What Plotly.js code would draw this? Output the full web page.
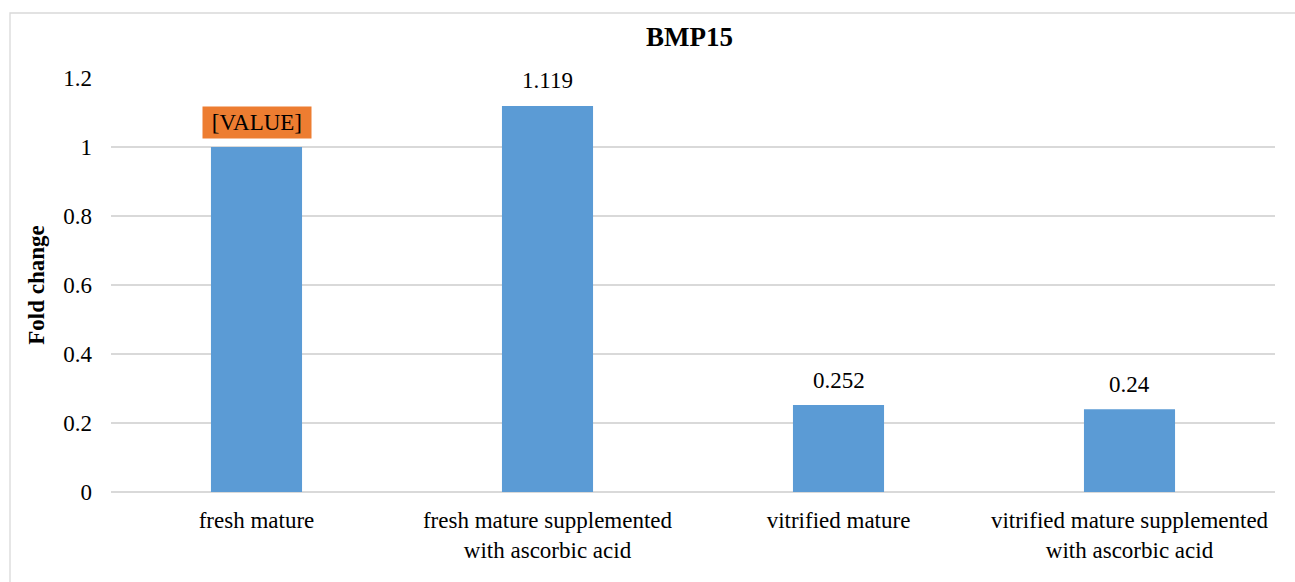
<!DOCTYPE html>
<html>
<head>
<meta charset="utf-8">
<script src="https://cdn.plot.ly/plotly-3.0.1.min.js"></script>
<style>
  html, body { margin: 0; padding: 0; background: #fff; }
  #chart { width: 1295px; height: 582px; }
</style>
</head>
<body>
<div id="chart"></div>
<script>
const categories = [
  "fresh mature",
  "fresh mature supplemented<br>with ascorbic acid",
  "vitrified mature",
  "vitrified mature supplemented<br>with ascorbic acid"
];
const foldChange = [1.0, 1.119, 0.252, 0.24];
const dataLabels = ["[VALUE]", "1.119", "0.252", "0.24"];
const labelBoxColors = ["#ED7D31", null, null, null];
const yTickValues = [0, 0.2, 0.4, 0.6, 0.8, 1, 1.2];

const FONT = '"Liberation Serif", "Times New Roman", serif';

const trace = {
  type: "bar",
  x: categories,
  y: foldChange,
  marker: { color: "#5B9BD5" },
  hoverinfo: "x+y"
};

const annotations = categories.map((c, i) => {
  const a = {
    x: c,
    y: foldChange[i],
    xref: "x",
    yref: "y",
    text: labelBoxColors[i] ? "&nbsp;" + dataLabels[i] + "&nbsp;" : dataLabels[i],
    showarrow: false,
    yanchor: "middle",
    yshift: 25,
    font: { family: FONT, size: 23, color: "#000" }
  };
  if (labelBoxColors[i]) {
    a.bgcolor = labelBoxColors[i];
    a.borderpad = 3;
  }
  return a;
});

const layout = {
  width: 1295,
  height: 582,
  font: { family: FONT, size: 23, color: "#000" },
  margin: { l: 111, r: 20, t: 78, b: 90, pad: 0 },
  paper_bgcolor: "#fff",
  plot_bgcolor: "#fff",
  showlegend: false,
  bargap: 0.687,
  title: {
    text: "<b>BMP15</b>",
    font: { family: FONT, size: 27, color: "#000" },
    xref: "paper",
    x: 0.497,
    xanchor: "center",
    yref: "container",
    y: 1 - 37 / 582,
    yanchor: "middle"
  },
  xaxis: {
    type: "category",
    showgrid: false,
    showline: false,
    zeroline: false,
    ticks: "",
    tickfont: { family: FONT, size: 23, color: "#000" },
    ticklabelstandoff: 12
  },
  yaxis: {
    range: [0, 1.2],
    tickvals: yTickValues,
    ticktext: yTickValues.map(v => String(v)),
    showgrid: true,
    gridcolor: "#D9D9D9",
    gridwidth: 1.3,
    zeroline: true,
    zerolinecolor: "#D9D9D9",
    zerolinewidth: 1.3,
    showline: false,
    ticks: "",
    tickfont: { family: FONT, size: 23, color: "#000" },
    ticklabelstandoff: 18,
    title: {
      text: "<b>Fold change</b>",
      font: { family: FONT, size: 23, color: "#000" },
      standoff: 12
    }
  },
  annotations: annotations,
  shapes: [{
    type: "rect",
    xref: "paper",
    yref: "paper",
    x0: (10 - 111) / 1164,
    x1: 1.2,
    y0: -0.5,
    y1: 1 + (78 - 13) / 414,
    line: { color: "#D9D9D9", width: 1.3 },
    fillcolor: "rgba(0,0,0,0)",
    layer: "below"
  }]
};

Plotly.newPlot("chart", [trace], layout, { displayModeBar: false, staticPlot: true });
</script>
</body>
</html>
